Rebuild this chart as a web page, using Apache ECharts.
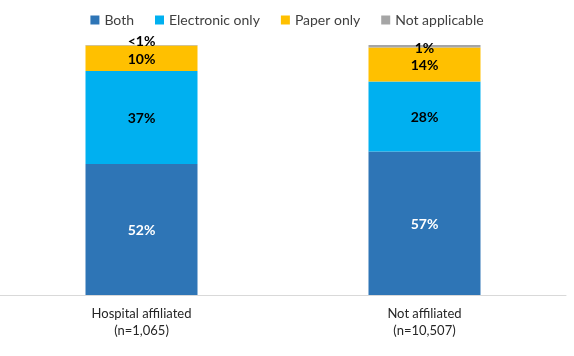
<!DOCTYPE html>
<html><head><meta charset="utf-8">
<script src="https://cdn.jsdelivr.net/npm/echarts@6/dist/echarts.min.js"></script>
<style>html,body{margin:0;padding:0;background:#fff}#c{width:574px;height:356px}</style>
</head><body><div id="c"></div>
<script>
const categories = ["Hospital affiliated\n(n=1,065)", "Not affiliated\n(n=10,507)"];
const seriesNames = ["Both", "Electronic only", "Paper only", "Not applicable"];
const both = [52.4, 57.4];
const electronic = [37.2, 28.0];
const paper = [10.2, 13.6];
const notApplicable = [0.2, 1.0];
const labelsBoth = ["52%", "57%"];
const labelsElectronic = ["37%", "28%"];
const labelsPaper = ["10%", "14%"];
const labelsNA = ["<1%", "1%"];

const colors = ["#2E75B6", "#00B0F0", "#FFC000", "#A5A5A5"];
const FONT = "Lato";

function mk(name, vals, labels, color, labColor, offsets) {
  return {
    name: name, type: 'bar', stack: 'total', barWidth: 112,
    itemStyle: { color: color },
    data: vals.map((v, i) => ({
      value: v,
      label: {
        show: true, position: 'inside', formatter: labels[i],
        color: labColor, fontWeight: 'bold', fontSize: 14, fontFamily: FONT,
        offset: offsets ? offsets[i] : [0, 1]
      }
    }))
  };
}

const chart = echarts.init(document.getElementById('c'));
chart.setOption({
  animation: false,
  color: colors,
  legend: {
    top: 8, left: 'center', itemWidth: 9, itemHeight: 9, itemGap: 21,
    icon: 'rect',
    textStyle: { fontFamily: FONT, fontSize: 14, color: '#404040' },
    data: seriesNames
  },
  grid: { left: 0, right: 8, top: 45, bottom: 61 },
  xAxis: {
    type: 'category', data: categories,
    axisLine: { lineStyle: { color: '#D9D9D9' } },
    axisTick: { show: false },
    axisLabel: { fontFamily: FONT, fontSize: 13, color: '#262626', lineHeight: 17, margin: 10 }
  },
  yAxis: { type: 'value', min: 0, max: 100, show: false, splitLine: { show: false } },
  series: [
    mk(seriesNames[0], both, labelsBoth, colors[0], '#fff'),
    mk(seriesNames[1], electronic, labelsElectronic, colors[1], '#000'),
    mk(seriesNames[2], paper, labelsPaper, colors[2], '#000'),
    mk(seriesNames[3], notApplicable, labelsNA, colors[3], '#000', [[0, -4], [0, 2]])
  ]
});
</script></body></html>
